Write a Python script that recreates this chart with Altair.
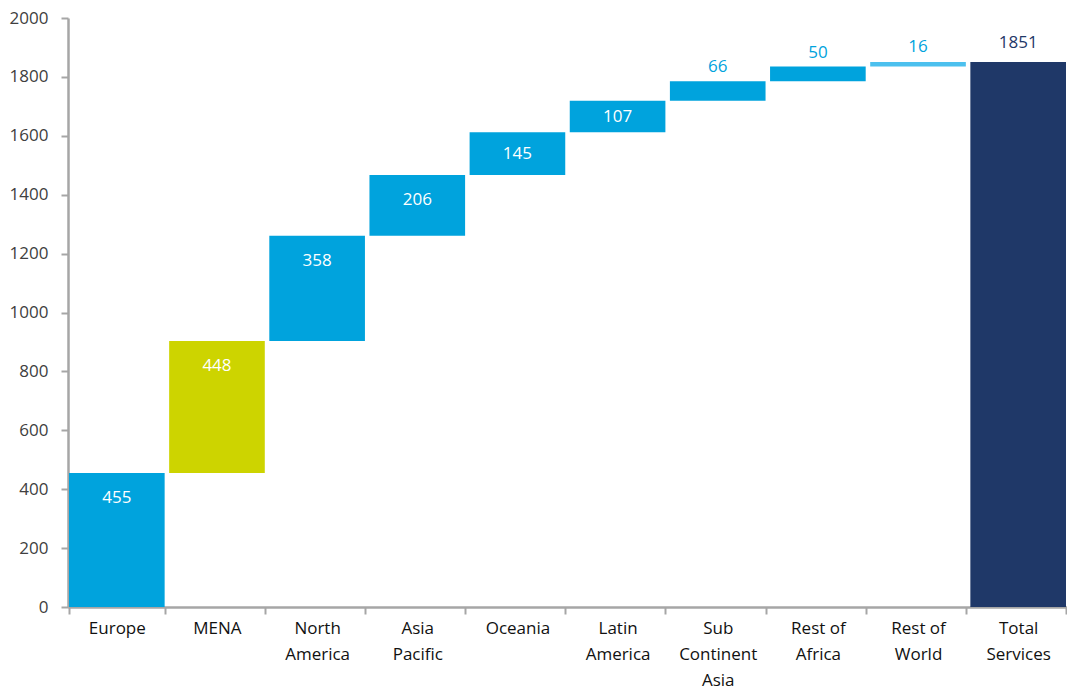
import altair as alt
import pandas as pd

categories = ["Europe", "MENA", "North|America", "Asia|Pacific", "Oceania",
              "Latin|America", "Sub|Continent|Asia", "Rest of|Africa", "Rest of|World", "Total|Services"]
values = [455, 448, 358, 206, 145, 107, 66, 50, 16, 1851]
bar_colors = ["#00a3dd", "#cdd400", "#00a3dd", "#00a3dd", "#00a3dd",
              "#00a3dd", "#00a3dd", "#00a3dd", "#4cc0ee", "#1f3868"]
label_colors = ["white", "white", "white", "white", "white",
                "white", "#00a3dd", "#00a3dd", "#00a3dd", "#1f3868"]
label_inside = [True, True, True, True, True, True, False, False, False, False]
label_gap = [0, 0, 0, 0, 0, 0, 14, 14, 15, 19]

rows = []
cum = 0
for i, (c, v) in enumerate(zip(categories, values)):
    if i == len(categories) - 1:
        start, end = 0, v
    else:
        start, end = cum, cum + v
        cum = end
    rows.append(dict(cat=c, start=start, end=end, value=v, bar=bar_colors[i],
                     lab=label_colors[i], inside=label_inside[i], gap=label_gap[i]))
df = pd.DataFrame(rows)

FONT = "Open Sans"
x_enc = alt.X("cat:N", sort=categories, title=None,
              scale=alt.Scale(paddingInner=0.045, paddingOuter=0.01),
              axis=alt.Axis(labelExpr="split(datum.label, '|')", labelAngle=0,
                            labelFont=FONT, labelFontSize=17, labelColor="#111111",
                            labelFontWeight=500,
                            labelLineHeight=26, labelPadding=6,
                            tickBand="extent", tickSize=7, tickColor="#a6a6a6", tickWidth=2,
                            domainColor="#a6a6a6", domainWidth=2.5))

base = alt.Chart(df)
bars = base.mark_bar().encode(
    x=x_enc,
    y=alt.Y("start:Q", title=None,
            scale=alt.Scale(domain=[0, 2000], nice=False),
            axis=alt.Axis(values=list(range(0, 2001, 200)), grid=False, format="d",
                          labelFont=FONT, labelFontSize=17, labelColor="#404040",
                          labelPadding=13, tickSize=7, tickColor="#a6a6a6", tickWidth=2,
                          domainColor="#a6a6a6", domainWidth=2.5)),
    y2="end:Q",
    color=alt.Color("bar:N", scale=None),
)

# label positions in data units (589 px = 2000 units)
inside = base.transform_filter("datum.inside").transform_calculate(
    ly="datum.end - min(85, datum.value / 2)"
).mark_text(
    font=FONT, fontSize=17, baseline="middle", fontWeight=500
).encode(
    x=alt.X("cat:N", sort=categories),
    y="ly:Q",
    text="value:Q",
    color=alt.Color("lab:N", scale=None),
)
above = base.transform_filter("!datum.inside").transform_calculate(
    ly="datum.end + datum.gap * 2000 / 589"
).mark_text(
    font=FONT, fontSize=17, baseline="middle", fontWeight=500
).encode(
    x=alt.X("cat:N", sort=categories),
    y="ly:Q",
    text="value:Q",
    color=alt.Color("lab:N", scale=None),
)

chart = alt.layer(bars, inside, above).properties(
    width=999, height=589,
    autosize=alt.AutoSizeParams(type="none"),
    padding={"left": 68, "top": 18, "right": 0, "bottom": 84},
).configure(background="white", view=alt.ViewConfig(stroke=None))

chart.save("out.html", embed_options={"renderer": "svg", "actions": False})
